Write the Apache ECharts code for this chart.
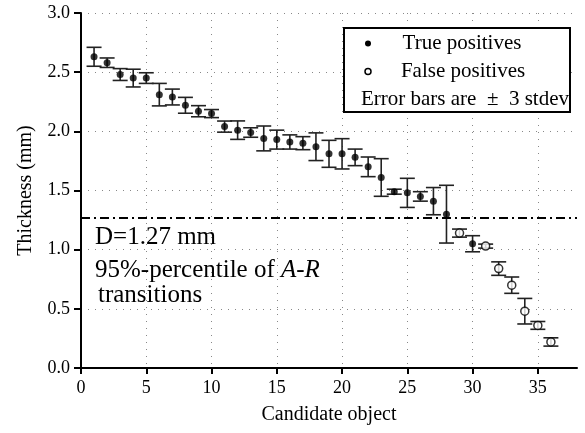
<!DOCTYPE html>
<html>
<head>
<meta charset="utf-8">
<script src="https://cdn.jsdelivr.net/npm/echarts@6/dist/echarts.min.js"></script>
<style>
  html, body { margin: 0; padding: 0; background: #fff; }
  #chart { width: 585px; height: 433px; }
</style>
</head>
<body>
<div id="chart"></div>
<script>
// candidate objects, ordered by thickness
var objects = [1, 2, 3, 4, 5, 6, 7, 8, 9, 10, 11, 12, 13, 14, 15, 16, 17, 18,
  19, 20, 21, 22, 23, 24, 25, 26, 27, 28, 29, 30, 31, 32, 33, 34, 35, 36];
var thickness = [2.63, 2.58, 2.48, 2.45, 2.45, 2.31, 2.29, 2.22, 2.17, 2.15, 2.04, 2.01,
  1.99, 1.94, 1.93, 1.91, 1.90, 1.87, 1.81, 1.81, 1.78, 1.70, 1.61, 1.49,
  1.48, 1.45, 1.41, 1.30, 1.14, 1.05, 1.03, 0.84, 0.70, 0.48, 0.36, 0.22];
// half length of error bar (3 stdev)
var err3sd = [0.08, 0.04, 0.05, 0.075, 0.045, 0.095, 0.067, 0.067, 0.047, 0.034, 0.047, 0.078,
  0.04, 0.105, 0.08, 0.06, 0.055, 0.117, 0.114, 0.128, 0.07, 0.083, 0.159, 0.021,
  0.123, 0.04, 0.115, 0.244, 0.034, 0.068, 0.017, 0.057, 0.069, 0.108, 0.033, 0.035];
// T = true positive, F = false positive
var kind = ['T','T','T','T','T','T','T','T','T','T','T','T','T','T','T','T','T','T',
  'T','T','T','T','T','T','T','T','T','T','F','T','F','F','F','F','F','F'];
var threshold = 1.27;
var xTicks = [0, 5, 10, 15, 20, 25, 30, 35];

var font = 'Liberation Serif';

var errData = [], truePts = [], falsePts = [];
for (var i = 0; i < objects.length; i++) {
  errData.push([objects[i], thickness[i], err3sd[i]]);
  if (kind[i] == 'T') truePts.push([objects[i], thickness[i]]);
  else falsePts.push([objects[i], thickness[i]]);
}

var myChart = echarts.init(document.getElementById('chart'));

var gridDots = { show: true, lineStyle: { color: '#888', width: 1, type: [1, 6] } };

var option = {
  animation: false,
  grid: { left: 81, right: 8, top: 13, bottom: 65, containLabel: false },
  xAxis: {
    type: 'value', min: 0, max: 38, interval: 5,
    name: 'Candidate object', nameLocation: 'middle', nameGap: 37,
    nameTextStyle: { fontFamily: font, fontSize: 20, color: '#000' },
    axisLine: { lineStyle: { color: '#000', width: 2 } },
    axisTick: { show: true, length: 6, lineStyle: { color: '#000', width: 2 }, customValues: xTicks },
    axisLabel: { fontFamily: font, fontSize: 18, color: '#000', margin: 11, customValues: xTicks },
    splitLine: gridDots
  },
  yAxis: {
    type: 'value', min: 0, max: 3, interval: 0.5,
    name: 'Thickness (mm)', nameLocation: 'middle', nameGap: 45,
    nameTextStyle: { fontFamily: font, fontSize: 20, color: '#000' },
    axisLine: { show: true, lineStyle: { color: '#000', width: 2 } },
    axisTick: { show: true, length: 7, lineStyle: { color: '#000', width: 2 } },
    axisLabel: { fontFamily: font, fontSize: 18, color: '#000', margin: 11,
      formatter: function (v) { return v.toFixed(1); } },
    splitLine: gridDots
  },
  series: [
    {
      type: 'custom',
      data: errData,
      z: 3,
      renderItem: function (params, api) {
        var x = api.value(0), y = api.value(1), e = api.value(2);
        var top = api.coord([x, y + e]);
        var bot = api.coord([x, y - e]);
        var w = 7.5;
        var st = { stroke: '#222', lineWidth: 1.6 };
        return {
          type: 'group',
          children: [
            { type: 'line', shape: { x1: top[0], y1: top[1], x2: bot[0], y2: bot[1] }, style: st },
            { type: 'line', shape: { x1: top[0] - w, y1: top[1], x2: top[0] + w, y2: top[1] }, style: st },
            { type: 'line', shape: { x1: bot[0] - w, y1: bot[1], x2: bot[0] + w, y2: bot[1] }, style: st }
          ]
        };
      },
      markLine: {
        silent: true, symbol: 'none', label: { show: false },
        lineStyle: { color: '#000', width: 2, type: [9, 4, 2, 4] },
        data: [{ yAxis: threshold }]
      }
    },
    {
      type: 'scatter', name: 'True positives', data: truePts, z: 4,
      symbol: 'circle', symbolSize: 7,
      itemStyle: { color: '#000' }
    },
    {
      type: 'scatter', name: 'False positives', data: falsePts, z: 4,
      symbol: 'circle', symbolSize: 8,
      itemStyle: { color: '#fff', borderColor: '#000', borderWidth: 1.5 }
    }
  ],
  graphic: [
    {
      type: 'rect', left: 343, top: 27, z: 10,
      shape: { width: 226, height: 84 },
      style: { fill: '#fff', stroke: '#000', lineWidth: 2 }
    },
    { type: 'circle', z: 11, shape: { cx: 368, cy: 43.5, r: 3 }, style: { fill: '#000' } },
    { type: 'circle', z: 11, shape: { cx: 368, cy: 71.5, r: 3 }, style: { fill: '#fff', stroke: '#000', lineWidth: 1.5 } },
    {
      type: 'text', z: 11, x: 462, y: 43,
      style: { text: 'True positives', font: '21px "Liberation Serif"', fill: '#000', align: 'center', verticalAlign: 'middle' }
    },
    {
      type: 'text', z: 11, x: 463, y: 71,
      style: { text: 'False positives', font: '21px "Liberation Serif"', fill: '#000', align: 'center', verticalAlign: 'middle' }
    },
    {
      type: 'text', z: 11, x: 465, y: 99,
      style: { text: 'Error bars are  \u00b1  3 stdev', font: '21px "Liberation Serif"', fill: '#000', align: 'center', verticalAlign: 'middle' }
    },
    {
      type: 'text', z: 11, x: 95, y: 237,
      style: { text: 'D=1.27 mm', font: '25px "Liberation Serif"', fill: '#000', verticalAlign: 'middle' }
    },
    {
      type: 'text', z: 11, x: 95, y: 270,
      style: {
        text: '95%-percentile of {i|A}-{i|R}',
        font: '25px "Liberation Serif"', fill: '#000', verticalAlign: 'middle',
        rich: { i: { fontFamily: font, fontSize: 25, fontStyle: 'italic' } }
      }
    },
    {
      type: 'text', z: 11, x: 98, y: 295,
      style: { text: 'transitions', font: '25px "Liberation Serif"', fill: '#000', verticalAlign: 'middle' }
    }
  ]
};
myChart.setOption(option);
</script>
</body>
</html>
